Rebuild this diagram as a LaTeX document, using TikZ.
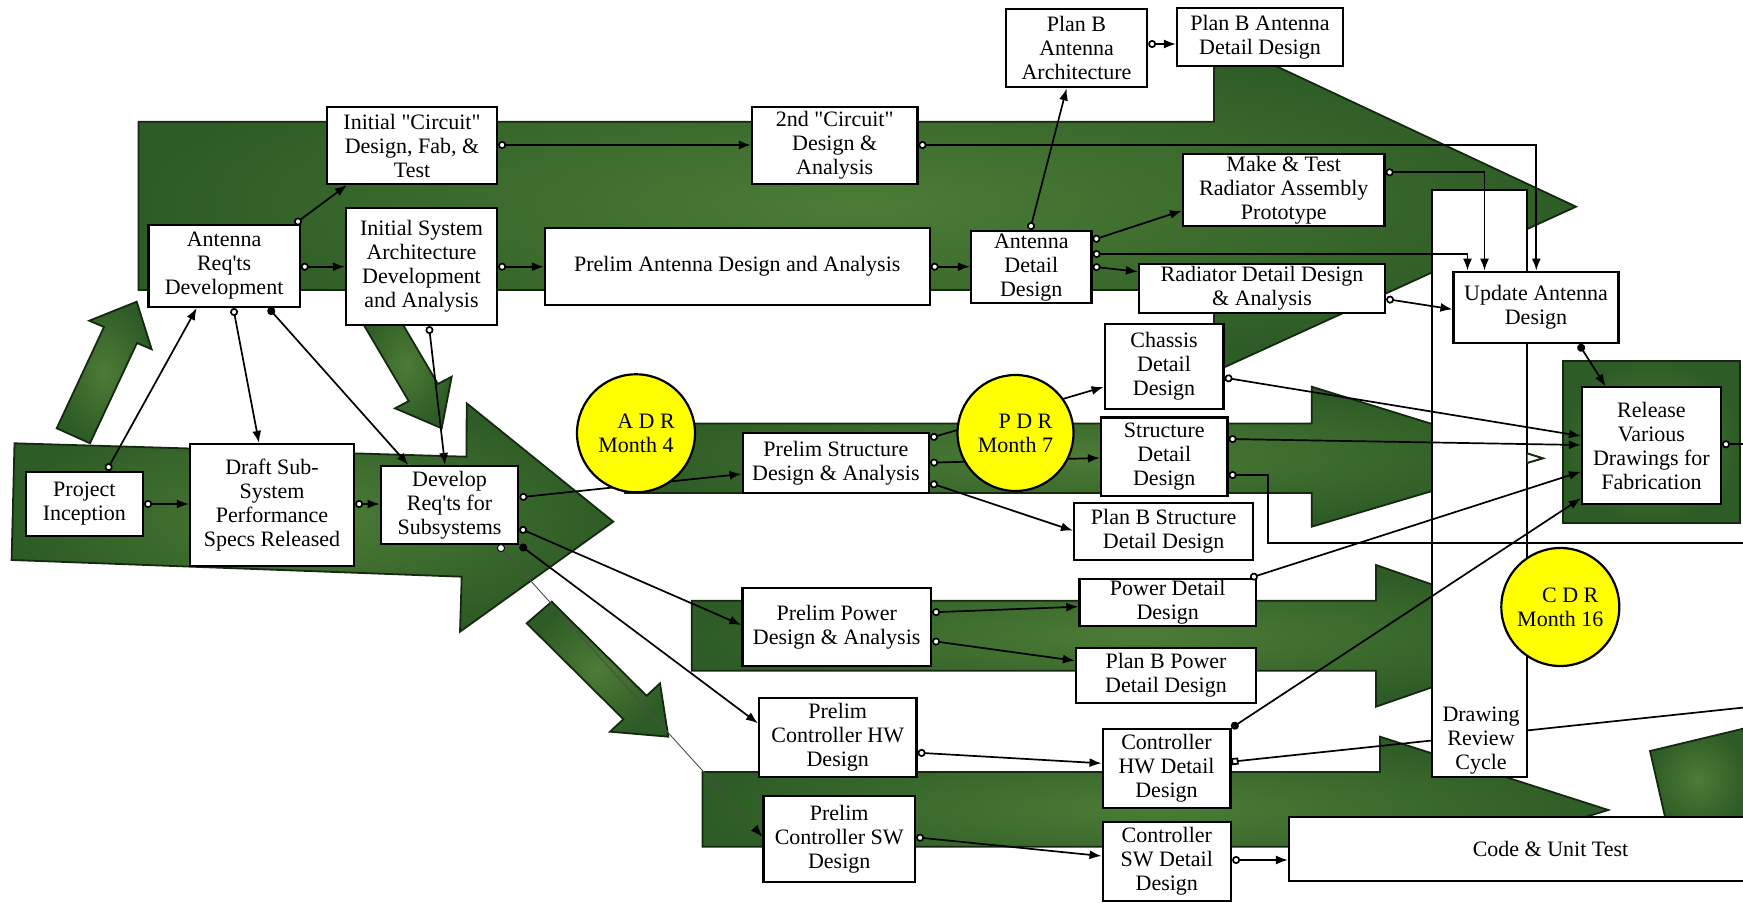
\documentclass[tikz,border=0pt]{standalone}
\usepackage{fontspec}
\setmainfont{Liberation Serif}
\usetikzlibrary{arrows.meta,calc}

\definecolor{gdark}{RGB}{46,92,38}
\definecolor{glight}{RGB}{76,124,54}
\definecolor{gline}{RGB}{22,40,18}
\definecolor{msyellow}{RGB}{255,255,0}
\newcommand\sq{\textquotesingle}
\newcommand\dq{\textquotedbl}
% task box from its corners: x1, y1, x2, y2, name, text
\newcommand\tbox[6]{\node[box, minimum width={(#3-#1)*0.5pt}, minimum height={(#4-#2)*0.5pt}] (#5) at ({(#1+#3)/2},{(#2+#4)/2}) {#6};}

\begin{document}
\begin{tikzpicture}[x=0.5pt,y=-0.5pt,
  txt/.style={font=\fontsize{11}{12}\selectfont},
  box/.style={draw=black, fill=white, line width=1.1pt, inner sep=0pt, align=center, txt},
  lbl/.style={inner sep=0pt, align=center, txt},
  milestone/.style={circle, draw=black, fill=msyellow, line width=1.1pt, inner sep=0pt, align=center, txt},
  band/.style={draw=gline, line width=0.9pt, line join=miter, inner color=glight, outer color=gdark},
  conn/.style={line width=0.85pt, arrows={Circle[open,fill=white,length=4pt,width=4pt]-Latex[length=6pt,width=4.5pt]}},
  conndot/.style={line width=0.85pt, arrows={Circle[length=4pt,width=4pt]-Latex[length=6pt,width=4.5pt]}},
  connthin/.style={line width=0.45pt, draw=black!70, arrows={Circle[open,fill=white,length=4pt,width=4pt,black]-Latex[length=6pt,width=4.5pt,black]}},
  connend/.style={line width=0.85pt, arrows={Circle[open,fill=white,length=4pt,width=4pt]-}},
  connsq/.style={line width=0.85pt, arrows={Square[open,fill=white,length=3.5pt,width=3.5pt]-}}]

\useasboundingbox (0,0) rectangle (1743,903);
\clip (0,0) rectangle (1743,903);

% ---------- phase arrows ----------
\shadedraw[band] (138.5,121.7) -- (1214,121.7) -- (1214,37) -- (1576,206.7) -- (1214,372) -- (1214,290) -- (138.5,290) -- cycle;
\shadedraw[band] (14.5,443.3) -- (466.5,456.7) -- (466.7,403.3) -- (613.3,521.7) -- (460,631.7) -- (461.7,576.7) -- (11.6,560) -- cycle;
\shadedraw[band] (625,423.5) -- (1311.7,423.5) -- (1311.7,386.7) -- (1542.7,458.3) -- (1311.7,526.7) -- (1311.7,493) -- (625,493) -- cycle;
\shadedraw[band] (691.7,600.7) -- (1376,600.7) -- (1376,565) -- (1580,636) -- (1376,706.7) -- (1376,670.7) -- (691.7,670.7) -- cycle;
\shadedraw[band] (702.5,772) -- (1380,772) -- (1380,736.7) -- (1608.3,810) -- (1380,880) -- (1380,846.7) -- (702.5,846.7) -- cycle;
\shadedraw[band] (56.7,428.3) -- (104,327) -- (89.3,320.7) -- (136.7,301.7) -- (151.7,349.3) -- (137,343) -- (90,443.3) -- cycle;
\shadedraw[band] (360,318.6) -- (408.7,401.1) -- (395,408.3) -- (441.7,428.3) -- (451.7,376.7) -- (437.9,383.9) -- (389.2,301.4) -- cycle;
\shadedraw[band] (526.7,623.3) -- (623.4,719.2) -- (610,731.7) -- (668.3,736.7) -- (660,683.3) -- (646.6,695.8) -- (551.7,601.7) -- cycle;
\shadedraw[band] (1563.3,360.7) rectangle (1740,523.3);
\shadedraw[band] (1650,751) -- (1746,728) -- (1746,830) -- (1668,830) -- cycle;

% ---------- controller HW detail node (its outgoing line runs behind the review box) ----------
\tbox{1102.6}{729}{1230.4}{808.3}{hw_detail}{Controller\\HW Detail\\Design}
\coordinate (edge_hw) at (1760,705.8);
\draw[connsq] (hw_detail.east |- 0,761.7) -- (edge_hw);

% ---------- review cycle and update ----------
\tbox{1432}{190}{1527}{776.7}{review}{}
\node[lbl] (review_text) at (1481,741) {Drawing\\Review\\Cycle};
% tip of the structure arrow showing past the review box
\draw[draw=gline, line width=0.9pt, fill=white] (1527.5,453.5) -- (1542.7,458.3) -- (1527.5,462.8);
\tbox{1453.5}{271.7}{1618.5}{343.3}{update_ant}{Update Antenna\\Design}

% ---------- task boxes ----------
\tbox{327}{107}{497}{184}{init_circuit}{Initial \dq Circuit\dq\\Design, Fab, \&\\Test}
\tbox{752}{106.7}{917.4}{184.3}{second_circuit}{2nd \dq Circuit\dq\\Design \&\\Analysis}
\tbox{1006}{9.3}{1147}{87.3}{planb_arch}{Plan B\\Antenna\\Architecture}
\tbox{1177}{8.3}{1343}{65.7}{planb_ant_detail}{Plan B Antenna\\Detail Design}
\tbox{148.5}{225}{299.7}{307}{ant_req}{Antenna\\Req\sq ts\\Development}
\tbox{346}{208}{497}{325}{init_sys}{Initial System\\Architecture\\Development\\and Analysis}
\tbox{545}{227.7}{929.6}{305}{prelim_ant}{Prelim Antenna Design and Analysis}
\tbox{971}{231}{1091.5}{303.3}{ant_detail}{Antenna\\Detail\\Design}
\tbox{1183}{154}{1384.5}{226}{make_test}{Make \& Test\\Radiator Assembly\\Prototype}
\tbox{1139}{264}{1385}{313.3}{rad_detail}{Radiator Detail Design\\\& Analysis}
\tbox{25.7}{471.7}{143}{535.7}{proj_inc}{Project\\Inception}
\tbox{190}{444}{354}{565.7}{draft}{Draft Sub-\\System\\Performance\\Specs Released}
\tbox{380.7}{466}{518.3}{544}{dev_req}{Develop\\Req\sq ts for\\Subsystems}
\tbox{742.7}{432.7}{929}{493.3}{prelim_struct}{Prelim Structure\\Design \& Analysis}
\tbox{1104.6}{324}{1223.5}{409}{chassis}{Chassis\\Detail\\Design}
\tbox{1101}{417.5}{1227.5}{495.7}{struct_detail}{Structure\\Detail\\Design}
\tbox{1074}{502.7}{1253.3}{560}{planb_struct}{Plan B Structure\\Detail Design}
\tbox{1582}{387.3}{1720.8}{504}{release}{Release\\Various\\Drawings for\\Fabrication}
\tbox{742.4}{588.3}{931}{665.7}{prelim_power}{Prelim Power\\Design \& Analysis}
\tbox{1079.4}{579}{1256}{626}{power_detail}{Power Detail\\Design}
\tbox{1076}{647.7}{1256}{703.3}{planb_power}{Plan B Power\\Detail Design}
\tbox{759}{698.3}{916.5}{776.7}{prelim_hw}{Prelim\\Controller HW\\Design}
\tbox{763.4}{796}{915}{881.7}{prelim_sw}{Prelim\\Controller SW\\Design}
\tbox{1102.6}{822.3}{1231}{900.7}{sw_detail}{Controller\\SW Detail\\Design}
\tbox{1289}{817}{1812}{880.7}{code_unit}{Code \& Unit Test}

% ---------- connectors ----------
\draw[conn] (ant_req.east |- 0,266.7) -- (init_sys.west |- 0,266.7);
\draw[conn] (init_sys.east |- 0,266.7) -- (prelim_ant.west |- 0,266.7);
\draw[conn] ($(ant_req.north east)+(-6,0)$) -- ($(init_circuit.south west)+(21,0)$);
\draw[conn] (init_circuit.east |- 0,145) -- (second_circuit.west |- 0,145);
\draw[conn] (second_circuit.east |- 0,145) -| (update_ant.north -| 1536.3,0);
\draw[conn] (prelim_ant.east |- 0,266.7) -- (ant_detail.west |- 0,266.7);
\draw[conn] (ant_detail.north -| 1030,0) -- (planb_arch.south -| 1066.6,0);
\draw[conn] (planb_arch.east |- 0,44) -- (planb_ant_detail.west |- 0,44);
\draw[conn] (ant_detail.east |- 0,240) -- (make_test.west |- 0,210.7);
\draw[conn] (ant_detail.east |- 0,254) -| (update_ant.north -| 1467.5,0);
\draw[conn] (ant_detail.east |- 0,266.7) -- (rad_detail.west |- 0,271.7);
\draw[conn] (make_test.east |- 0,172.3) -| (update_ant.north -| 1484.5,0);
\draw[conn] (rad_detail.east |- 0,299) -- (update_ant.west |- 0,309.3);
\draw[conndot] (update_ant.south -| 1579,0) -- (release.north -| 1605.5,0);

\draw[conn] (proj_inc.north -| 106.7,0) -- (ant_req.south -| 196.7,0);
\draw[conn] (ant_req.south -| 233.3,0) -- (draft.north -| 259,0);
\draw[conndot] (ant_req.south -| 268.6,0) -- (dev_req.north -| 408.3,0);
\draw[conn] (init_sys.south -| 429,0) -- (dev_req.north -| 445,0);
\draw[conn] (proj_inc.east |- 0,504) -- (draft.west |- 0,504);
\draw[conn] (draft.east |- 0,504) -- (dev_req.west |- 0,504);
\draw[conn] (dev_req.east |- 0,497.3) -- (prelim_struct.west |- 0,474);
\draw[conn] (dev_req.east |- 0,528.3) -- (prelim_power.west |- 0,625);
\draw[conndot] (dev_req.south -| 520,0) -- (prelim_hw.west |- 0,723.3);
\draw[connthin] (dev_req.south -| 498.3,0) -- (prelim_sw.west |- 0,836.7);

\draw[conn] (prelim_struct.east |- 0,438) -- (chassis.west |- 0,387);
\draw[conn] (prelim_struct.east |- 0,462.7) -- (struct_detail.west |- 0,458);
\draw[conn] (prelim_struct.east |- 0,483) -- (planb_struct.west |- 0,530.7);
\draw[conn] (chassis.east |- 0,377.7) -- (release.west |- 0,436);
\draw[conn] (struct_detail.east |- 0,439) -- (release.west |- 0,445);
\coordinate (edge_struct) at (1760,543.3);
\draw[connend] (struct_detail.east |- 0,475) -- (1268.3,475) -- (1268.3,543.3) -- (edge_struct);
\draw[conn] ($(power_detail.north east)+(-7,0)$) -- (release.west |- 0,471.7);
\draw[conndot] (hw_detail.north east) -- (release.west |- 0,498.3);
\coordinate (edge_release) at (1760,444.3);
\draw[connend] (release.east |- 0,444.3) -- (edge_release);

\draw[conn] (prelim_power.east |- 0,612.3) -- (power_detail.west |- 0,606.7);
\draw[conn] (prelim_power.east |- 0,641) -- (planb_power.west |- 0,660.7);
\draw[conn] (prelim_hw.east |- 0,752.7) -- (hw_detail.west |- 0,763.3);
\draw[conn] (prelim_sw.east |- 0,837.3) -- (sw_detail.west |- 0,856);
\draw[conn] (sw_detail.east |- 0,860) -- (code_unit.west |- 0,860);

% ---------- review milestones ----------
\node[milestone, minimum size=59pt] (adr) at (636,433.3) {\hspace*{10pt}A D R\\Month 4};
\node[milestone, minimum size=58pt] (pdr) at (1015.5,433) {\hspace*{10pt}P D R\\Month 7};
\node[milestone, minimum size=59pt] (cdr) at (1560.3,607) {\hspace*{10pt}C D R\\Month 16};

\end{tikzpicture}
\end{document}
